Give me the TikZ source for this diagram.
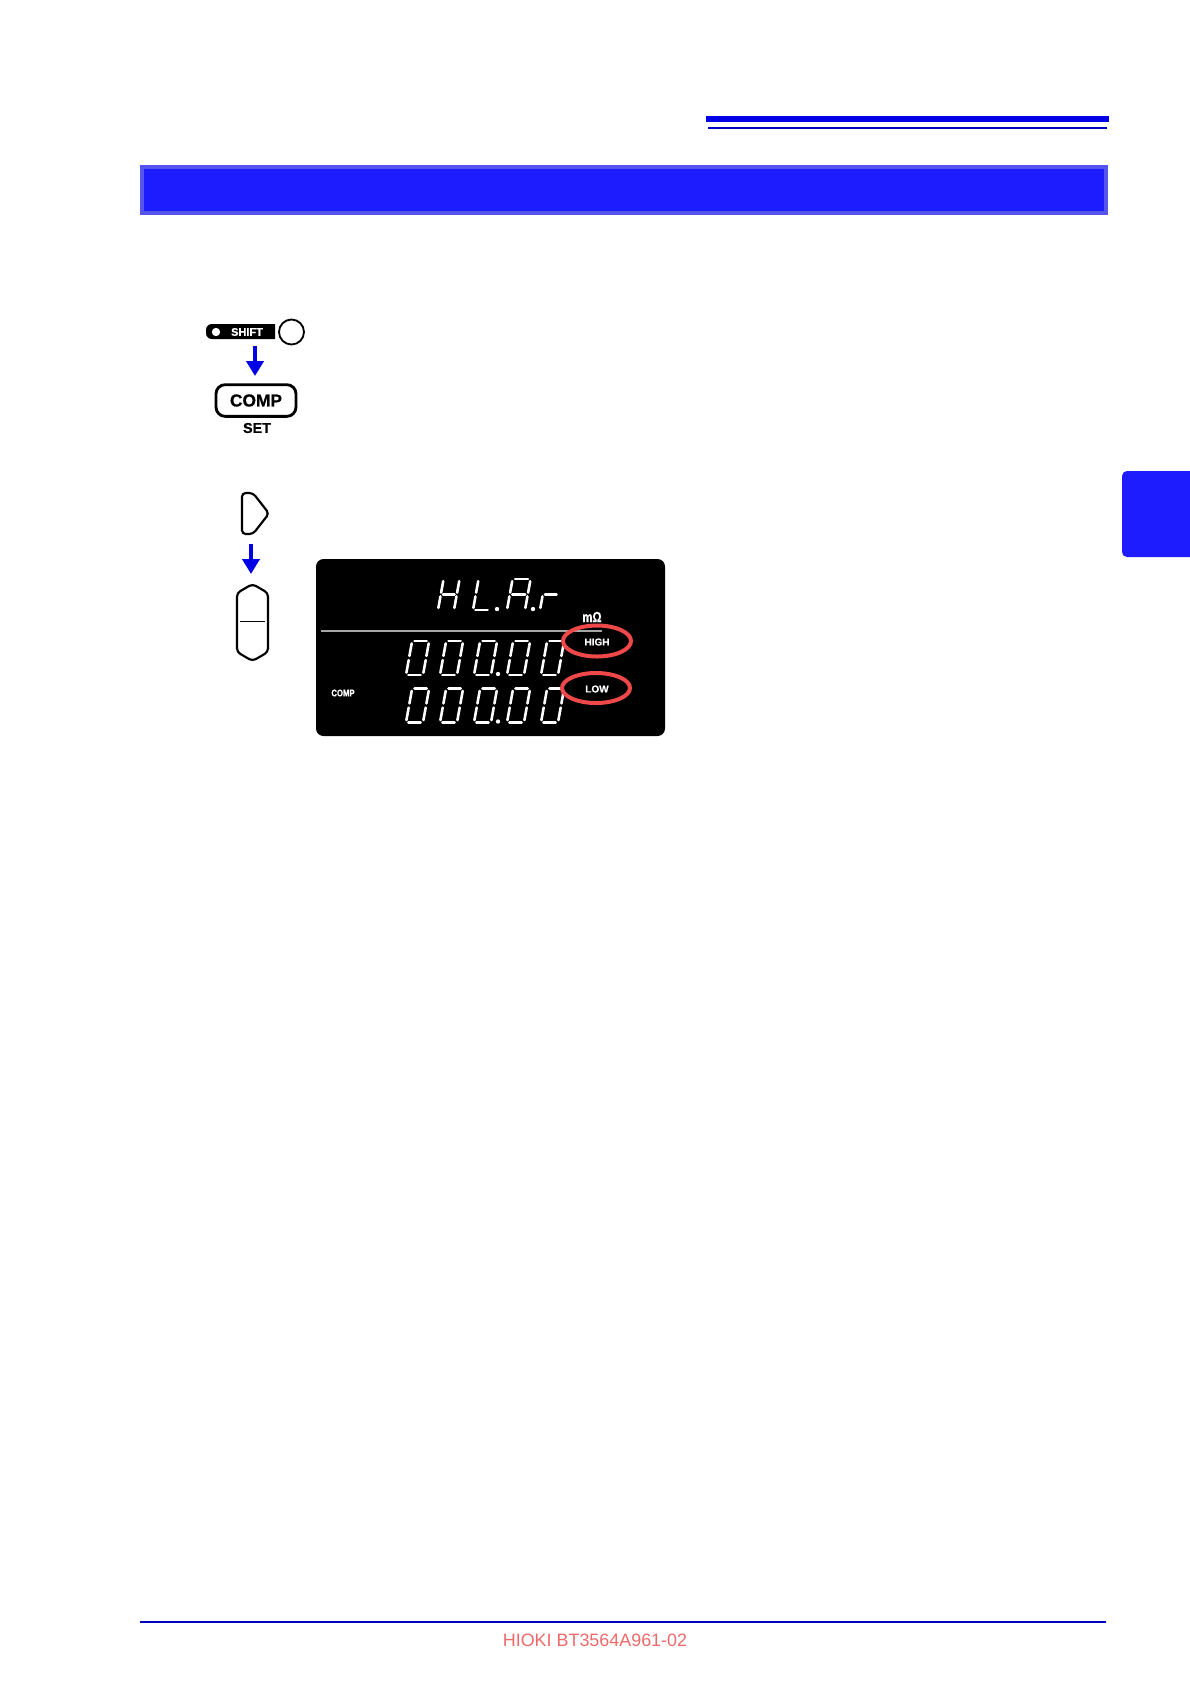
\documentclass[tikz,border=0pt]{standalone}
\usepackage{fontspec}
\setmainfont{Liberation Sans}
\newfontface\heavyf{Liberation Sans Bold}[FakeBold=0.6]
\usetikzlibrary{arrows.meta}
\definecolor{hdrfill}{HTML}{1C1CFF}
\definecolor{hdredge}{HTML}{5555EE}
\definecolor{rulecol}{HTML}{0000E6}
\definecolor{footcol}{HTML}{EE6A6A}
\definecolor{ringcol}{HTML}{EE4848}
\tikzset{
  flowarrow/.style={draw=rulecol,line width=2.4pt,-{Triangle[width=10.2pt,length=9pt]},shorten >=0pt},
  keyoutline/.style={draw=black,line width=1.3pt,fill=white,rounded corners=2.2pt},
  segline/.style={draw=white,line width=1.55pt,line cap=round},
  ringline/.style={draw=ringcol,line width=2.4pt},
  lcdtext/.style={text=white,inner sep=0pt}
}
\def\DGsega{(.14,1)--(.86,1)}
\def\DGsegb{(1,.93)--(1,.56)}
\def\DGsegc{(1,.44)--(1,.07)}
\def\DGsegd{(.14,0)--(.86,0)}
\def\DGsege{(0,.07)--(0,.44)}
\def\DGsegf{(0,.56)--(0,.93)}
\def\DGsegg{(.14,.5)--(.86,.5)}
\newcommand\DG[5]{%
  \begin{scope}[shift={(#1,#2)},xslant=.18,x=#3*0.6pt,y=#4*0.6pt]
    \foreach \s in {#5}{\draw[segline] \csname DGseg\s\endcsname;}
  \end{scope}}
\begin{document}
\begin{tikzpicture}[x=0.6pt,y=-0.6pt]
\useasboundingbox (0,0) rectangle (1190,1684);
\fill[white] (0,0) rectangle (1190,1684);
% top rules and header band
\fill[rulecol] (706,116) rectangle (1109,122);
\fill[rulecol!85!black] (708,127) rectangle (1107,129);
\draw[draw=hdredge,fill=hdrfill,line width=2.4pt] (142,167) rectangle (1106,213);
% right tab
\fill[hdrfill] (1190,557) [rounded corners=3pt] -- (1122,557) -- (1122,471) [sharp corners] -- (1190,471) -- cycle;
% SHIFT key
\fill[black] (275,339) [rounded corners=3.5pt] -- (206,339) -- (206,324) [sharp corners] -- (275,324) -- cycle;
\fill[white] (216,332) circle[radius=2.5pt];
\node[lcdtext,font=\heavyf\fontsize{6.6}{7}\selectfont] (shifttext) at (247,332) {SHIFT};
\node[draw=black,line width=1.1pt,circle,fill=white,minimum size=15pt,inner sep=0pt] (shiftled) at (291.5,332) {};
% COMP key
\node[draw=black,line width=1.7pt,rounded corners=5.5pt,minimum width=48pt,minimum height=19pt,inner sep=0pt,font=\heavyf\fontsize{10.4}{12}\selectfont] (compkey) at (256,400.5) {COMP};
\node[inner sep=0pt,font=\heavyf\fontsize{8.6}{10}\selectfont] (setlabel) at (257,428) {SET};
\coordinate (a1s) at (255,346);
\coordinate (a1e) at (255,376);
\draw[flowarrow] (a1s) -- (a1e);
% cursor keys
\draw[keyoutline] (253,493) -- (242,493) -- (242,534) -- (253,534) -- (269,513.5) -- cycle;
\coordinate (a2s) at (251,544);
\coordinate (a2e) at (251,574);
\draw[flowarrow] (a2s) -- (a2e);
\draw[keyoutline] (252.5,584) -- (268,593) -- (268,652) -- (252.5,661) -- (237,652) -- (237,593) -- cycle;
\draw[black,line width=.5pt] (240,621) -- (265,621);
% display
\fill[black,rounded corners=4.5pt] (316,559) rectangle (665,736);
\draw[draw=black!35,line width=.9pt] (321,631) -- (602,631);
% top row HL.A.r
\DG{438}{610}{16}{31}{b,c,e,f,g}
\DG{473}{610}{17}{31}{d,e,f}
\fill[white] (497,609) circle[radius=1.3pt];
\DG{507}{610}{18}{31}{a,b,c,e,f,g}
\fill[white] (533,609) circle[radius=1.3pt];
\DG{540}{610}{16}{31}{e,g}
% middle row
\foreach \xx in {406,440,474,507,541}{\DG{\xx}{675}{17}{34}{a,b,c,d,e,f}}
\fill[white] (498,674) circle[radius=1.3pt];
% bottom row
\foreach \xx in {406,440,474,507,541}{\DG{\xx}{722.5}{17}{34}{a,b,c,d,e,f}}
\fill[white] (498,721.5) circle[radius=1.3pt];
% labels
\node[lcdtext,xscale=.85,yscale=1.1,font=\heavyf\fontsize{8}{9}\selectfont] (unit) at (592,617) {m\char"03A9};
\node[lcdtext,font=\heavyf\fontsize{6}{7}\selectfont] (high) at (597,642) {HIGH};
\node[lcdtext,font=\heavyf\fontsize{6}{7}\selectfont] (low) at (597,689) {LOW};
\node[lcdtext,xscale=.8,font=\heavyf\fontsize{5.8}{6}\selectfont] (complabel) at (343,693) {COMP};
\draw[ringline] (597,641) ellipse[x radius=34,y radius=15.5];
\draw[ringline] (596,688) ellipse[x radius=34,y radius=15];
% footer
\draw[draw=rulecol!85!black,line width=1pt] (140,1622) -- (1106,1622);
\node[text=footcol,inner sep=0pt,font=\fontsize{10.75}{13}\selectfont] (foot) at (595,1640) {HIOKI BT3564A961-02};
\end{tikzpicture}
\end{document}
